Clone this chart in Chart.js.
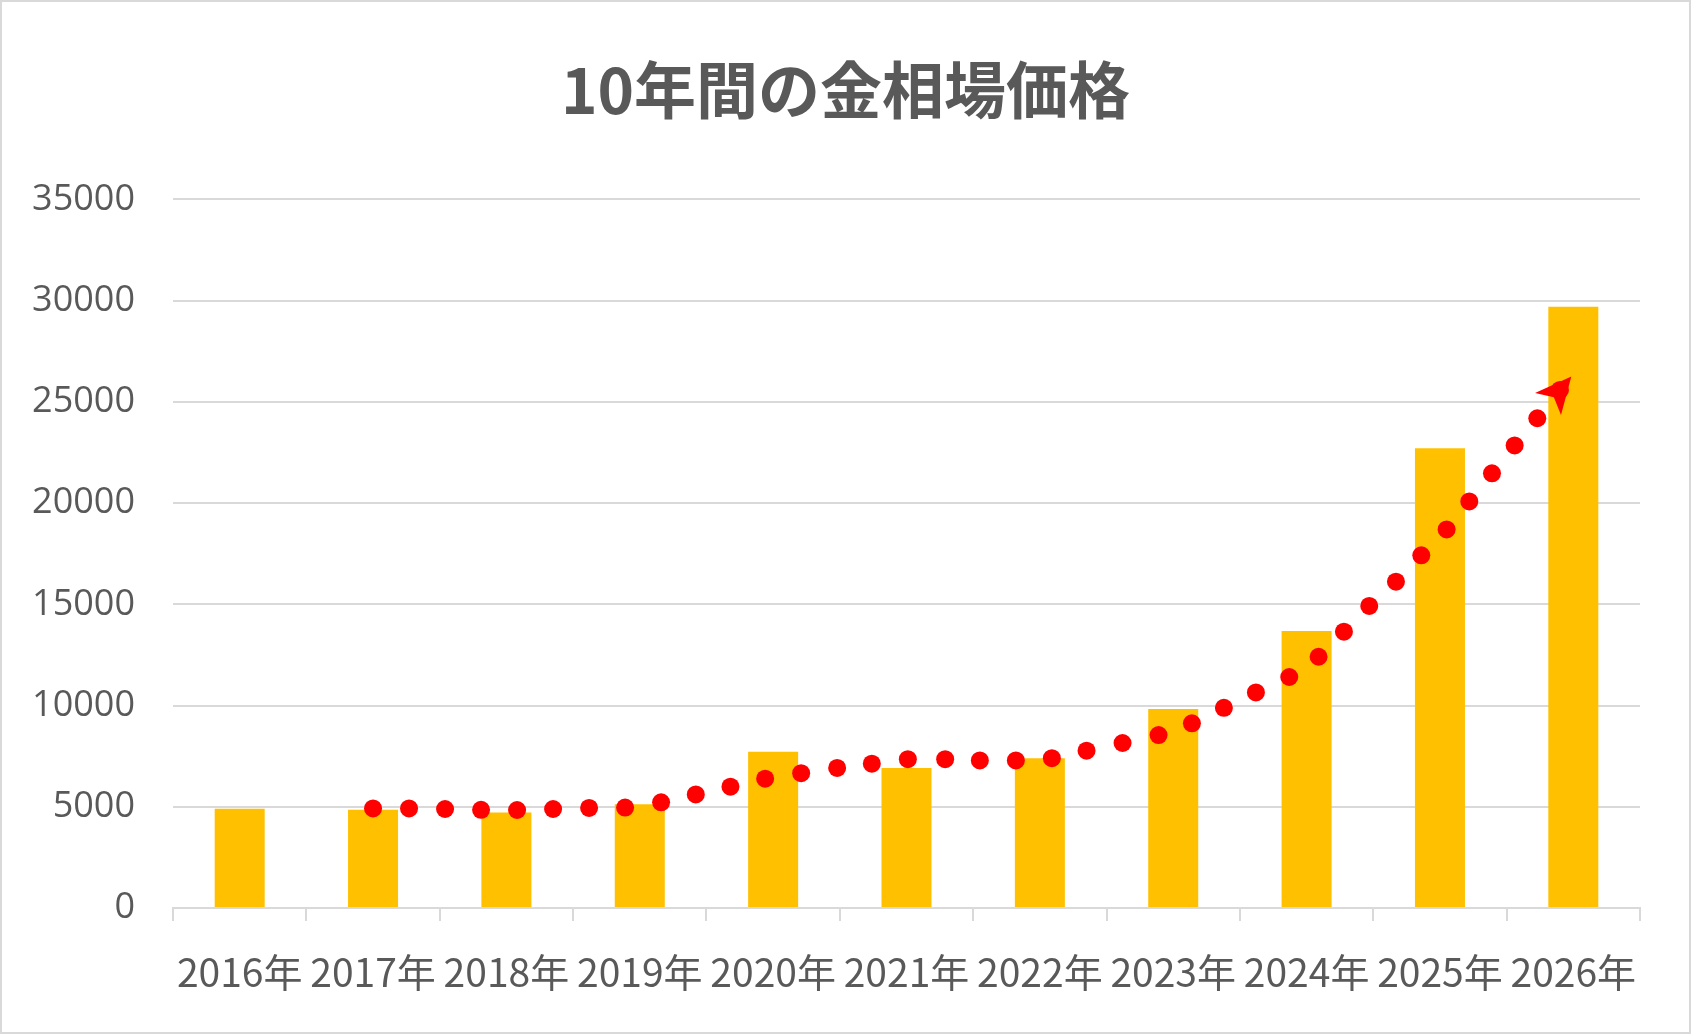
<!DOCTYPE html>
<html>
<head>
<meta charset="utf-8">
<script src="https://cdn.jsdelivr.net/npm/chart.js@4"></script>
<style>
  html, body { margin: 0; padding: 0; background: #fff; }
  canvas { display: block; }
</style>
</head>
<body>
<canvas id="goldChart" width="1691" height="1034"></canvas>
<script>
// data
const years = ['2016年', '2017年', '2018年', '2019年', '2020年', '2021年', '2022年', '2023年', '2024年', '2025年', '2026年'];
const prices = [4900, 4850, 4720, 5130, 7720, 6920, 7400, 9830, 13680, 22710, 29700];

// red dotted trend arrow (x = category index)
const trendX = [1.00, 1.27, 1.54, 1.81, 2.08, 2.35, 2.62, 2.89, 3.16, 3.42, 3.68, 3.94, 4.21, 4.48, 4.74,
  5.01, 5.29, 5.55, 5.82, 6.09, 6.35, 6.62, 6.89, 7.14, 7.38, 7.62, 7.87, 8.09, 8.28, 8.47,
  8.67, 8.86, 9.05, 9.22, 9.39, 9.56, 9.73, 9.90, 9.985];
const trendY = [4920, 4920, 4890, 4850, 4840, 4890, 4940, 4960, 5220, 5610, 5990, 6390, 6660, 6920, 7130,
  7350, 7350, 7290, 7290, 7400, 7770, 8150, 8540, 9120, 9890, 10650, 11410, 12410, 13650, 14920,
  16120, 17420, 18700, 20080, 21470, 22850, 24190, 25590, 26250];

const yMax = 35000;
const yStep = 5000;

const textColor = '#595959';
const gridColor = '#d9d9d9';

// white background + thin frame
const framePlugin = {
    id: 'frame',
    beforeDraw(chart) {
        const c = chart.ctx;
        c.save();
        c.fillStyle = '#fff';
        c.fillRect(0, 0, chart.width, chart.height);
        c.strokeStyle = gridColor;
        c.lineWidth = 2;
        c.strokeRect(1, 1, chart.width - 2, chart.height - 2);
        c.restore();
    }
};

// arrow head at the end of the trend dots
const arrowPlugin = {
    id: 'arrowHead',
    afterDatasetsDraw(chart) {
        const pts = chart.getDatasetMeta(1).data;
        const tip = pts[pts.length - 1];
        const prev = pts[pts.length - 2];
        const ang = Math.atan2(tip.y - prev.y, tip.x - prev.x);
        const c = chart.ctx;
        c.save();
        c.translate(tip.x, tip.y);
        c.rotate(ang);
        c.fillStyle = '#ff0000';
        c.beginPath();
        c.moveTo(0, 0);
        c.lineTo(-36, -17);
        c.lineTo(-27, 0);
        c.lineTo(-36, 17);
        c.closePath();
        c.fill();
        c.restore();
    }
};

const ctx = document.getElementById('goldChart').getContext('2d');
const goldChart = new Chart(ctx, {
    type: 'bar',
    data: {
        labels: years,
        datasets: [{
            label: '金相場',
            data: prices,
            backgroundColor: '#ffc000',
            barPercentage: 0.375,
            categoryPercentage: 1,
            grouped: false,
            order: 1
        }, {
            type: 'scatter',
            label: 'trend',
            data: trendX.map((x, i) => ({ x: x, y: trendY[i] })),
            xAxisID: 'x2',
            backgroundColor: '#ff0000',
            borderWidth: 0,
            pointRadius: trendX.map((x, i) => i === trendX.length - 1 ? 0 : 9),
            order: 0
        }]
    },
    options: {
        responsive: false,
        animation: false,
        layout: { padding: 0 },
        plugins: {
            legend: { display: false },
            tooltip: { enabled: false },
            title: {
                display: true,
                text: '10年間の金相場価格',
                color: textColor,
                font: { family: '"Noto Sans CJK JP", "Noto Sans", sans-serif', size: 62, weight: 'bold', lineHeight: 1.2 },
                padding: { top: 53, bottom: 72 }
            }
        },
        scales: {
            x: {
                grid: { drawOnChartArea: false, drawTicks: true, tickLength: 13, color: gridColor, lineWidth: 2 },
                border: { color: gridColor, width: 2 },
                ticks: {
                    color: textColor,
                    padding: 28,
                    maxRotation: 0,
                    autoSkip: false,
                    font: { family: '"Liberation Sans Narrow", "Noto Sans CJK JP", sans-serif', size: 39 }
                },
                afterFit(scale) { scale.height = 126; }
            },
            x2: {
                type: 'linear',
                display: false,
                offset: false,
                grid: { offset: false },
                min: -0.5,
                max: years.length - 0.5
            },
            y: {
                min: 0,
                max: yMax,
                grid: { color: gridColor, lineWidth: 2, drawTicks: false },
                border: { display: false },
                ticks: {
                    stepSize: yStep,
                    color: textColor,
                    padding: 38,
                    font: { family: '"Open Sans", sans-serif', size: 36 },
                    callback: (v) => String(v)
                },
                afterFit(scale) { scale.width = 173; }
            },
            // empty right margin so the title stays centred on the page
            yRight: {
                position: 'right',
                min: 0,
                max: yMax,
                grid: { drawOnChartArea: false, drawTicks: false },
                border: { display: false },
                ticks: { display: false },
                afterFit(scale) { scale.width = 51; }
            }
        }
    },
    plugins: [framePlugin, arrowPlugin]
});
</script>
</body>
</html>
